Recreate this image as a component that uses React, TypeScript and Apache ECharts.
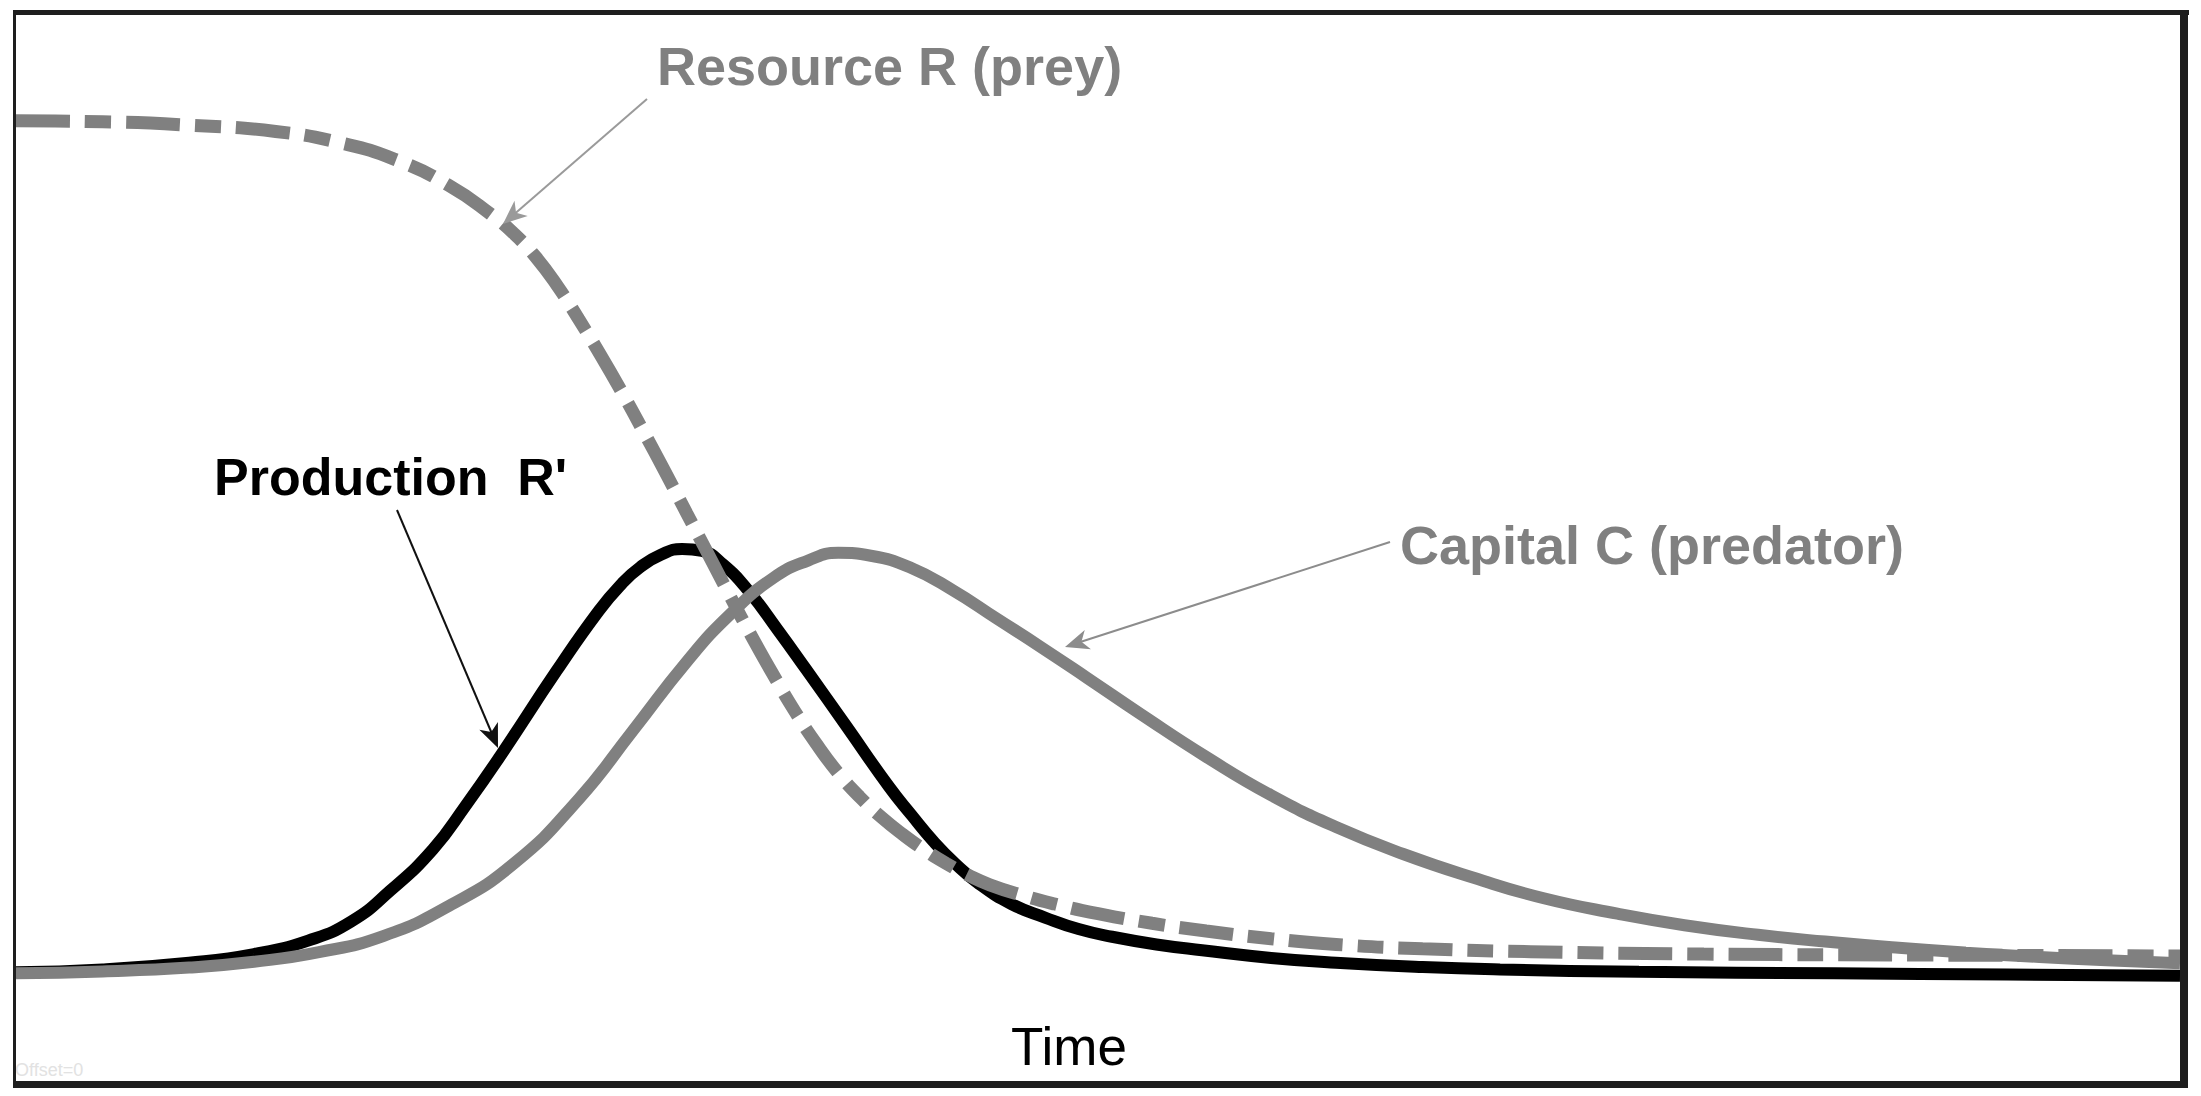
import React, { useEffect, useRef } from "react";
import * as echarts from "echarts";

// Time axis (arbitrary units 0..100) and values (arbitrary units)
const prodT = [0, 4, 8, 11, 13.5, 15.5, 17.3, 19.27, 20.8, 22.35, 25.0, 26.94, 28.0, 28.84, 29.8, 30.78, 31.7, 32.67, 33.83, 35.2, 36.51, 38.4, 40.34, 41.4, 42.4, 43.4, 44.5, 46.0, 47.55, 49.1, 50.65, 52.7, 54.81, 58, 61, 65, 68.58, 75, 84, 92, 100];
const prodV = [0.5, 0.8, 1.5, 2.4, 3.8, 5.8, 9.0, 13.3, 17.9, 22.9, 31.9, 38.1, 40.9, 42.6, 43.9, 44.5, 44.3, 42.9, 40.2, 36.1, 32.0, 26.0, 19.8, 16.8, 14.1, 11.8, 9.7, 7.6, 6.2, 5.0, 4.2, 3.4, 2.8, 2.0, 1.5, 1.05, 0.8, 0.55, 0.4, 0.28, 0.15];

const capT = [0, 4, 8, 11, 14, 17, 20, 23, 26, 28.5, 31.0, 33.0, 35.0, 36.6, 38.0, 39.5, 41.3, 43.3, 45.3, 47.3, 49.5, 52, 55, 58, 61, 64.1, 67.4, 70.6, 74, 77.1, 80.5, 83.6, 87, 90.1, 93.5, 96.6, 100];
const capV = [0.4, 0.6, 1.0, 1.6, 2.6, 4.3, 7.4, 11.8, 18.5, 25.6, 32.8, 37.7, 41.5, 43.3, 44.1, 43.8, 42.6, 40.2, 37.3, 34.4, 31.1, 27.3, 22.9, 18.9, 15.6, 12.8, 10.3, 8.2, 6.6, 5.4, 4.4, 3.7, 3.05, 2.55, 2.1, 1.75, 1.45];

const resT = [0, 4, 8, 12, 15, 17.5, 20, 22, 23, 24, 25, 26, 27, 28, 29, 30, 31, 32, 33, 34, 35, 36, 37, 38, 39, 40, 41, 42, 43, 44, 45, 46.5, 48, 50, 52.5, 55, 58, 61, 65, 70, 78, 88, 100];
const resV = [89.0, 88.9, 88.55, 87.9, 86.7, 85.0, 82.3, 79.2, 77.3, 74.9, 71.9, 68.4, 64.7, 60.8, 56.7, 52.5, 48.2, 43.9, 39.6, 35.4, 31.4, 27.6, 24.2, 21.2, 18.7, 16.6, 14.8, 13.2, 11.8, 10.6, 9.6, 8.5, 7.6, 6.6, 5.6, 4.8, 4.0, 3.4, 2.95, 2.65, 2.4, 2.3, 2.2];

const labelResource = "Resource R (prey)";
const labelProduction = "Production  R'";
const labelCapital = "Capital C (predator)";
const labelTime = "Time";
const labelOffset = "Offset=0";

const FONT = "'Liberation Sans', Arial, Helvetica, sans-serif";
const GRAY = "#808080";

function arrow(x1: number, y1: number, x2: number, y2: number, color: string, width: number, head: number) {
  const dx = x2 - x1, dy = y2 - y1;
  const len = Math.hypot(dx, dy);
  const ux = dx / len, uy = dy / len;
  const px = -uy, py = ux;
  const L = head, W = head * 0.42;
  const bx = x2 - ux * L, by = y2 - uy * L;
  const nx = x2 - ux * L * 0.72, ny = y2 - uy * L * 0.72;
  return [
    { type: "line", shape: { x1, y1, x2: x2 - ux * L * 0.6, y2: y2 - uy * L * 0.6 }, style: { stroke: color, lineWidth: width } },
    {
      type: "polygon",
      shape: { points: [[x2, y2], [bx + px * W, by + py * W], [nx, ny], [bx - px * W, by - py * W]] },
      style: { fill: color },
    },
  ];
}

function pairs(t: number[], v: number[]) {
  return t.map((x, i) => [x, v[i]]);
}

export default function App() {
  const ref = useRef<HTMLDivElement>(null);
  useEffect(() => {
    const chart = echarts.init(ref.current!, null, { renderer: "svg", width: 2201, height: 1096 });
    const border = "#1e1e1e";
    chart.setOption({
      animation: false,
      backgroundColor: "#ffffff",
      grid: { left: 16, right: 21, top: 15, bottom: 13, containLabel: false },
      xAxis: { type: "value", min: 0, max: 100, show: false },
      yAxis: { type: "value", min: -11, max: 100, show: false },
      series: [
        {
          name: "Production R'",
          type: "line",
          data: pairs(prodT, prodV),
          symbol: "none",
          smooth: 0.5,
          lineStyle: { color: "#000000", width: 12 },
          z: 2,
        },
        {
          name: "Resource R (prey)",
          type: "line",
          data: pairs(resT, resV),
          symbol: "none",
          smooth: 0.5,
          lineStyle: { color: GRAY, width: 13, type: [54, 15, 26, 15], cap: "butt" },
          z: 3,
        },
        {
          name: "Capital C (predator)",
          type: "line",
          data: pairs(capT, capV),
          symbol: "none",
          smooth: 0.5,
          lineStyle: { color: GRAY, width: 12 },
          z: 4,
        },
      ],
      graphic: [
        { type: "rect", shape: { x: 13, y: 10, width: 2176, height: 5 }, style: { fill: border }, z: 100 },
        { type: "rect", shape: { x: 13, y: 10, width: 3, height: 1078 }, style: { fill: border }, z: 100 },
        { type: "rect", shape: { x: 2180, y: 10, width: 8, height: 1078 }, style: { fill: border }, z: 100 },
        { type: "rect", shape: { x: 13, y: 1081, width: 2175, height: 7 }, style: { fill: border }, z: 100 },
        {
          type: "text", x: 657, y: 66, z: 50,
          style: { text: labelResource, font: `bold 54px ${FONT}`, fill: GRAY, textAlign: "left", textVerticalAlign: "middle" },
        },
        {
          type: "text", x: 214, y: 477, z: 50,
          style: { text: labelProduction, font: `bold 52px ${FONT}`, fill: "#000000", textAlign: "left", textVerticalAlign: "middle" },
        },
        {
          type: "text", x: 1400, y: 545, z: 50,
          style: { text: labelCapital, font: `bold 54px ${FONT}`, fill: GRAY, textAlign: "left", textVerticalAlign: "middle" },
        },
        {
          type: "text", x: 1069, y: 1046, z: 50,
          style: { text: labelTime, font: `53px ${FONT}`, fill: "#000000", textAlign: "center", textVerticalAlign: "middle" },
        },
        {
          type: "text", x: 15, y: 1070, z: 50,
          style: { text: labelOffset, font: `18px ${FONT}`, fill: "#e2e2e2", textAlign: "left", textVerticalAlign: "middle" },
        },
        ...arrow(647, 99, 503, 224, "#9a9a9a", 2, 24).map((e) => ({ ...e, z: 60 })),
        ...arrow(397, 510, 498, 748, "#111111", 2, 24).map((e) => ({ ...e, z: 60 })),
        ...arrow(1390, 542, 1065, 647, "#8c8c8c", 2, 24).map((e) => ({ ...e, z: 60 })),
      ],
    });
    return () => chart.dispose();
  }, []);
  return (
    <div
      ref={ref}
      style={{ position: "absolute", left: 0, top: 0, width: 2201, height: 1096, background: "#ffffff" }}
    />
  );
}
